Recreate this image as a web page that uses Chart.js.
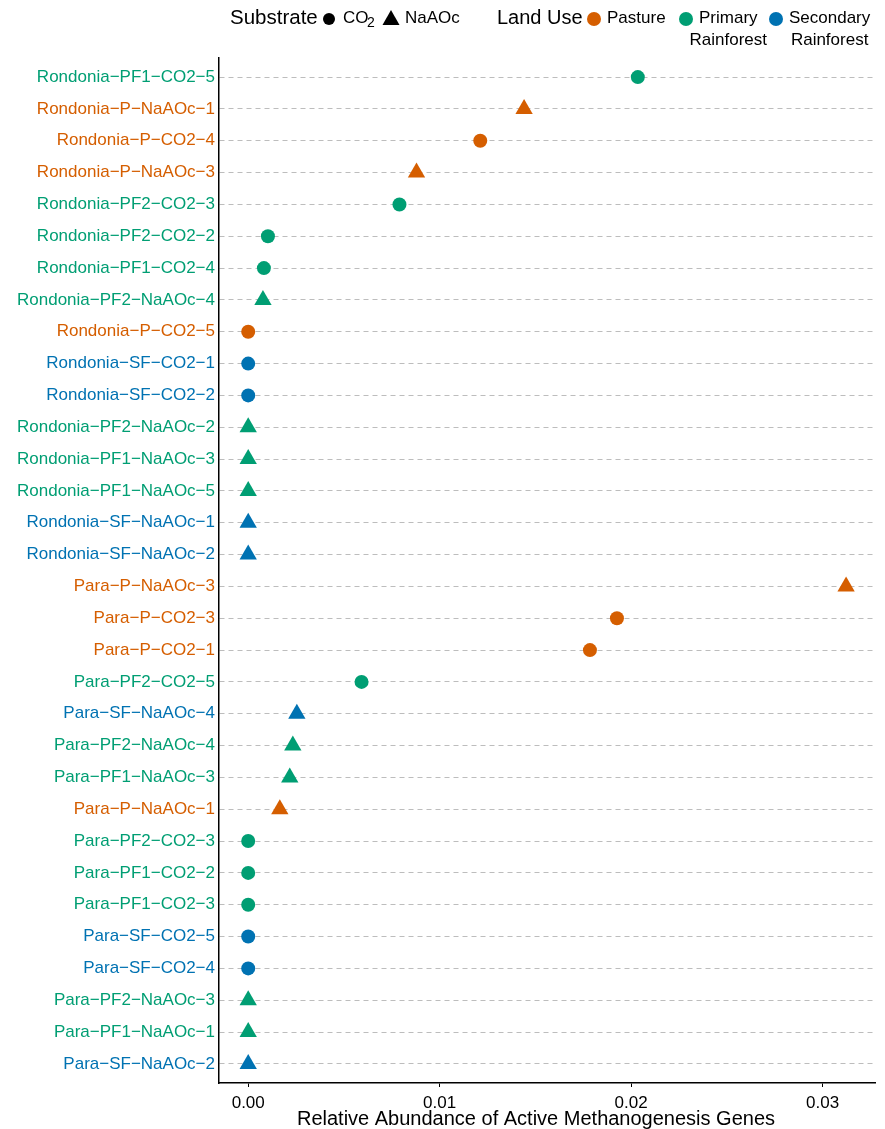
<!DOCTYPE html>
<html>
<head>
<meta charset="utf-8">
<script src="https://cdn.jsdelivr.net/npm/chart.js@4/dist/chart.umd.min.js"></script>
<style>
  html, body { margin: 0; padding: 0; background: #fff; }
  #wrap { position: relative; width: 885px; height: 1129px; }
</style>
</head>
<body>
<div id="wrap"><canvas id="chart" width="885" height="1129"></canvas></div>
<script>
// samples, top to bottom
const samples = [
  'Rondonia−PF1−CO2−5', 'Rondonia−P−NaAOc−1', 'Rondonia−P−CO2−4', 'Rondonia−P−NaAOc−3',
  'Rondonia−PF2−CO2−3', 'Rondonia−PF2−CO2−2', 'Rondonia−PF1−CO2−4', 'Rondonia−PF2−NaAOc−4',
  'Rondonia−P−CO2−5', 'Rondonia−SF−CO2−1', 'Rondonia−SF−CO2−2', 'Rondonia−PF2−NaAOc−2',
  'Rondonia−PF1−NaAOc−3', 'Rondonia−PF1−NaAOc−5', 'Rondonia−SF−NaAOc−1', 'Rondonia−SF−NaAOc−2',
  'Para−P−NaAOc−3', 'Para−P−CO2−3', 'Para−P−CO2−1', 'Para−PF2−CO2−5',
  'Para−SF−NaAOc−4', 'Para−PF2−NaAOc−4', 'Para−PF1−NaAOc−3', 'Para−P−NaAOc−1',
  'Para−PF2−CO2−3', 'Para−PF1−CO2−2', 'Para−PF1−CO2−3', 'Para−SF−CO2−5',
  'Para−SF−CO2−4', 'Para−PF2−NaAOc−3', 'Para−PF1−NaAOc−1', 'Para−SF−NaAOc−2'
];

const abundance = [
  0.02035, 0.01441, 0.01212, 0.00879, 0.0079, 0.00103, 0.00082, 0.00077,
  0, 0, 0, 0, 0, 0, 0, 0,
  0.03123, 0.01926, 0.01785, 0.00592, 0.00254, 0.00233, 0.00217, 0.00165,
  0, 0, 0, 0, 0, 0, 0, 0
];

const landUse = [
  'Primary', 'Pasture', 'Pasture', 'Pasture', 'Primary', 'Primary', 'Primary', 'Primary',
  'Pasture', 'Secondary', 'Secondary', 'Primary', 'Primary', 'Primary', 'Secondary', 'Secondary',
  'Pasture', 'Pasture', 'Pasture', 'Primary', 'Secondary', 'Primary', 'Primary', 'Pasture',
  'Primary', 'Primary', 'Primary', 'Secondary', 'Secondary', 'Primary', 'Primary', 'Secondary'
];

const substrate = [
  'CO2', 'NaAOc', 'CO2', 'NaAOc', 'CO2', 'CO2', 'CO2', 'NaAOc',
  'CO2', 'CO2', 'CO2', 'NaAOc', 'NaAOc', 'NaAOc', 'NaAOc', 'NaAOc',
  'NaAOc', 'CO2', 'CO2', 'CO2', 'NaAOc', 'NaAOc', 'NaAOc', 'NaAOc',
  'CO2', 'CO2', 'CO2', 'CO2', 'CO2', 'NaAOc', 'NaAOc', 'NaAOc'
];

const xTicks = [0, 0.01, 0.02, 0.03];

const landColors = { Pasture: '#D55E00', Primary: '#009E73', Secondary: '#0072B2' };
const shapes = { CO2: 'circle', NaAOc: 'triangle' };
const FONT = "'Liberation Sans', Arial, sans-serif";

const points = samples.map((s, i) => ({ x: abundance[i], y: i }));

// legend + x title, drawn straight onto the canvas
const extras = {
  id: 'extras',
  afterDraw(chart) {
    const ctx = chart.ctx;
    ctx.save();
    ctx.fillStyle = '#000';
    ctx.textBaseline = 'middle';
    ctx.textAlign = 'left';

    const y = 18;
    ctx.font = '20.5px ' + FONT;
    ctx.fillText('Substrate', 230, y);
    ctx.font = '20px ' + FONT;
    ctx.fillText('Land Use', 497, y);

    ctx.beginPath(); ctx.arc(329, y + 1, 6, 0, Math.PI * 2); ctx.fill();
    ctx.font = '17px ' + FONT;
    ctx.fillText('CO', 343, y);
    ctx.font = '14px ' + FONT;
    ctx.fillText('2', 367, y + 5);

    ctx.beginPath();
    ctx.moveTo(391, y - 8); ctx.lineTo(399.5, y + 7); ctx.lineTo(382.5, y + 7); ctx.closePath(); ctx.fill();
    ctx.font = '17px ' + FONT;
    ctx.fillText('NaAOc', 405, y);

    const items = [
      ['Pasture', 594, ['Pasture']],
      ['Primary', 686, ['Primary', 'Rainforest']],
      ['Secondary', 776, ['Secondary', 'Rainforest']]
    ];
    items.forEach(([key, cx, lines]) => {
      ctx.fillStyle = landColors[key];
      ctx.beginPath(); ctx.arc(cx, y + 1, 7, 0, Math.PI * 2); ctx.fill();
      ctx.fillStyle = '#000';
      // two-line labels are centred on the first line
      const mid = cx + 13 + ctx.measureText(lines[0]).width / 2;
      ctx.textAlign = 'center';
      lines.forEach((t, k) => ctx.fillText(t, mid, y + 22 * k));
    });

    ctx.textAlign = 'center';
    ctx.font = '20px ' + FONT;
    ctx.fillText('Relative Abundance of Active Methanogenesis Genes', 536, 1119);
    ctx.restore();
  }
};

new Chart(document.getElementById('chart'), {
  type: 'scatter',
  data: {
    datasets: [{
      data: points,
      pointStyle: substrate.map(s => shapes[s]),
      pointRadius: substrate.map(s => s === 'CO2' ? 7 : 10),
      backgroundColor: landUse.map(l => landColors[l]),
      borderColor: landUse.map(l => landColors[l]),
      borderWidth: 0
    }]
  },
  options: {
    responsive: false,
    animation: false,
    layout: { padding: { top: 58, right: 8, bottom: 0, left: 0 } },
    plugins: { legend: { display: false }, tooltip: { enabled: false } },
    scales: {
      x: {
        type: 'linear',
        min: -0.001526,
        max: 0.03274,
        afterBuildTicks: axis => { axis.ticks = xTicks.map(v => ({ value: v })); },
        afterFit: axis => { axis.height = 46; },
        border: { display: true, color: '#000', width: 1.5 },
        grid: { drawOnChartArea: false, drawTicks: true, tickLength: 4, color: '#000', lineWidth: 1 },
        ticks: {
          color: '#000',
          padding: 6,
          font: { family: FONT, size: 17 },
          callback: v => v.toFixed(2)
        }
      },
      y: {
        type: 'linear',
        reverse: true,
        min: -0.6,
        max: 31.6,
        afterBuildTicks: axis => { axis.ticks = samples.map((_, i) => ({ value: i })); },
        afterFit: axis => { axis.width = 219; },
        border: { display: true, color: '#000', width: 1.5, dash: [5, 4] },
        grid: { drawTicks: false, color: '#bdbdbd', lineWidth: 1 },
        ticks: {
          padding: 4,
          autoSkip: false,
          font: { family: FONT, size: 17 },
          color: ctx => landColors[landUse[ctx.index]] || '#000',
          callback: v => samples[v]
        }
      }
    }
  },
  plugins: [extras]
});
</script>
</body>
</html>
